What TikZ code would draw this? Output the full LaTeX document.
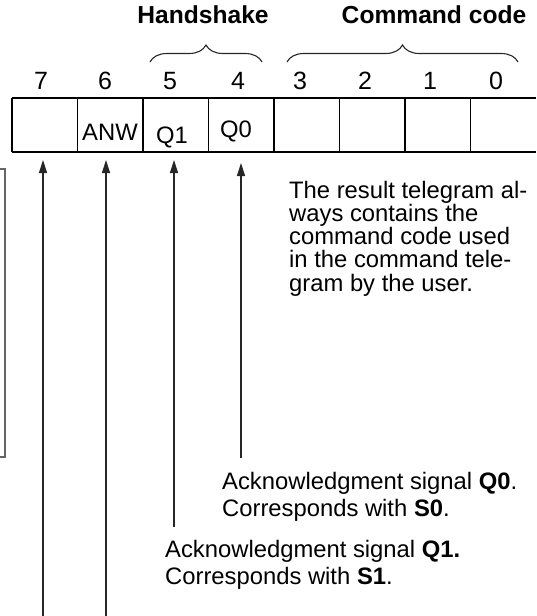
\documentclass[tikz,border=0pt]{standalone}
\usepackage{fontspec}
\setmainfont{Liberation Sans}
\usetikzlibrary{arrows.meta,decorations.pathreplacing}
\begin{document}
\begin{tikzpicture}[x=1pt,y=-1pt,
  txt/.style={inner sep=0pt,font=\fontsize{23.8}{27}\selectfont,anchor=base west},
  ctxt/.style={inner sep=0pt,font=\fontsize{23.8}{27}\selectfont,anchor=base},
  num/.style={inner sep=0pt,font=\fontsize{25}{27}\selectfont,anchor=base},
  head/.style={inner sep=0pt,font=\fontsize{24.6}{27}\selectfont\bfseries,anchor=base},
  cell/.style={minimum width=65.5pt,minimum height=54pt,inner sep=0pt,outer sep=0pt},
  gridline/.style={line width=1.5pt,black},
  arr/.style={line width=1.3pt,draw=black!85,-{Triangle[length=13pt,width=8pt]},shorten >=8pt},
  brc/.style={line width=1.1pt,black!85,decorate,decoration={brace,amplitude=17pt}}
]
\useasboundingbox (0,0) rectangle (536,616);

% heading labels
\node[head] (hs) at (203,23.5) {Handshake};
\node[head] (cc) at (434,23.5) {Command code};

% braces
\coordinate (hb1) at (150,62);
\coordinate (hb2) at (262,62);
\coordinate (cb1) at (287,62);
\coordinate (cb2) at (518,62);
\draw[brc] (hb1) -- (hb2);
\draw[brc] (cb1) -- (cb2);

% bit numbers
\node[num] (n7) at (41,89) {7};
\node[num] (n6) at (105,89) {6};
\node[num] (n5) at (170,89) {5};
\node[num] (n4) at (238,89) {4};
\node[num] (n3) at (300,89) {3};
\node[num] (n2) at (365,89) {2};
\node[num] (n1) at (430,89) {1};
\node[num] (n0) at (496,89) {0};

% cells
\node[cell] (c7) at (44.75,125) {};
\node[cell] (c6) at (110.25,125) {};
\node[cell] (c5) at (175.75,125) {};
\node[cell] (c4) at (241.25,125) {};
\node[cell] (c3) at (306.75,125) {};
\node[cell] (c2) at (372.25,125) {};
\node[cell] (c1) at (437.75,125) {};
\node[cell] (c0) at (503.25,125) {};
\draw[gridline] (c7.north west) -- (c0.north east);
\draw[gridline] (c7.south west) -- (c0.south east);
\foreach \c in {c7,c6,c5,c4,c3,c2,c1,c0}
  \draw[gridline] (\c.north west) -- (\c.south west);

% cell labels
\node[ctxt] (tanw) at (110,140.5) {ANW};
\node[ctxt] (tq1) at (172,143) {Q1};
\node[ctxt] (tq0) at (236,137) {Q0};

% partial box at left
\draw[line width=1.2pt,black!60] (-2,169) -- (5,169) -- (5,457) -- (-2,457);

% arrows
\coordinate (a7) at (43,616);
\coordinate (a6) at (106,616);
\coordinate (a5) at (174,527);
\coordinate (a4) at (241,458);
\draw[arr] (a7) -- (a7 |- c7.south);
\draw[arr] (a6) -- (a6 |- c6.south);
\draw[arr] (a5) -- (a5 |- c5.south);
\draw[arr,shorten >=11pt] (a4) -- (a4 |- c4.south);

% paragraph
\node[txt] (p1) at (289,198) {The result telegram al-};
\node[txt] (p2) at (289,221.3) {ways contains the};
\node[txt] (p3) at (289,244.6) {command code used};
\node[txt] (p4) at (289,267.9) {in the command tele-};
\node[txt] (p5) at (289,291.2) {gram by the user.};

% acknowledgment texts
\node[txt] (q0a) at (222,489) {Acknowledgment signal \textbf{Q0}.};
\node[txt] (q0b) at (222,516) {Corresponds with \textbf{S0}.};
\node[txt] (q1a) at (165,557) {Acknowledgment signal \textbf{Q1.}};
\node[txt] (q1b) at (165,584) {Corresponds with \textbf{S1}.};
\end{tikzpicture}
\end{document}
